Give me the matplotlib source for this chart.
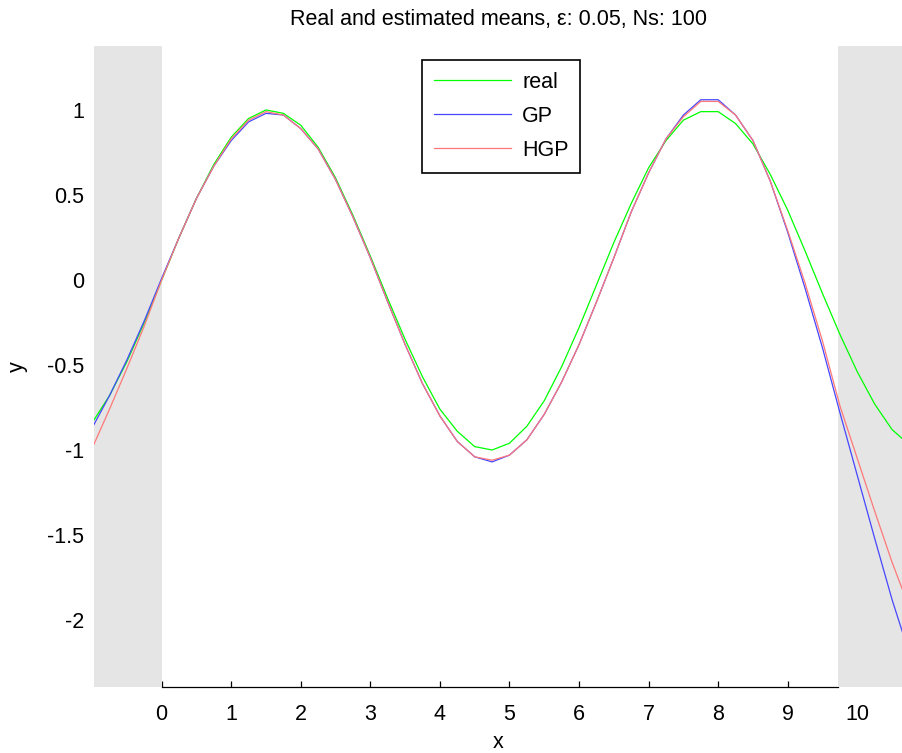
import numpy as np
import matplotlib.pyplot as plt

plt.rcParams['font.family'] = ['Liberation Sans', 'DejaVu Sans']

# sample positions
x = [-1.0, -0.75, -0.5, -0.25, 0.0, 0.25, 0.5, 0.75, 1.0, 1.25, 1.5, 1.75,
     2.0, 2.25, 2.5, 2.75, 3.0, 3.25, 3.5, 3.75, 4.0, 4.25, 4.5, 4.75,
     5.0, 5.25, 5.5, 5.75, 6.0, 6.25, 6.5, 6.75, 7.0, 7.25, 7.5, 7.75,
     8.0, 8.25, 8.5, 8.75, 9.0, 9.25, 9.5, 9.75, 10.0, 10.25, 10.5, 10.75]

real = [-0.84, -0.68, -0.48, -0.25, 0.00, 0.25, 0.48, 0.68, 0.84, 0.95, 1.00, 0.98,
        0.91, 0.78, 0.60, 0.38, 0.14, -0.11, -0.35, -0.57, -0.76, -0.89, -0.98, -1.00,
        -0.96, -0.86, -0.71, -0.51, -0.28, -0.03, 0.22, 0.45, 0.66, 0.82, 0.94, 0.99,
        0.99, 0.92, 0.80, 0.62, 0.41, 0.17, -0.08, -0.32, -0.54, -0.73, -0.88, -0.97]

gp = [-0.87, -0.68, -0.47, -0.24, 0.01, 0.25, 0.48, 0.67, 0.82, 0.93, 0.98, 0.97,
      0.89, 0.77, 0.59, 0.37, 0.13, -0.13, -0.38, -0.61, -0.80, -0.95, -1.04, -1.07,
      -1.03, -0.94, -0.79, -0.60, -0.38, -0.13, 0.13, 0.40, 0.63, 0.83, 0.97, 1.06,
      1.06, 0.97, 0.82, 0.58, 0.28, -0.05, -0.40, -0.78, -1.15, -1.52, -1.88, -2.20]

hgp = [-0.99, -0.76, -0.52, -0.27, 0.00, 0.25, 0.48, 0.67, 0.83, 0.94, 0.99, 0.97,
       0.89, 0.77, 0.59, 0.37, 0.13, -0.13, -0.38, -0.61, -0.80, -0.95, -1.04, -1.06,
       -1.03, -0.94, -0.79, -0.60, -0.38, -0.13, 0.13, 0.40, 0.63, 0.83, 0.96, 1.05,
       1.05, 0.97, 0.82, 0.58, 0.29, -0.02, -0.36, -0.74, -1.05, -1.36, -1.66, -1.93]

xticks = [0, 1, 2, 3, 4, 5, 6, 7, 8, 9, 10]
yticks = [-2, -1.5, -1, -0.5, 0, 0.5, 1]
ytick_labels = ['-2', '-1.5', '-1', '-0.5', '0', '0.5', '1']

fs = 15.5
fig = plt.figure(figsize=(9.03, 7.53), dpi=100)
ax = fig.add_axes([0.1041, 0.0876, 0.8959, 0.8513])

ax.plot(x, real, color='#00ff00', lw=0.9, label='real', zorder=4)
ax.plot(x, gp, color='#4646ff', lw=0.9, label='GP', zorder=5)
ax.plot(x, hgp, color='#ff7878', lw=0.9, label='HGP', zorder=6)

# shaded regions outside training range
ax.axvspan(-2, 0, color='#e5e5e5', lw=0, zorder=2.6)
ax.axvspan(9.727, 12, color='#e5e5e5', lw=0, zorder=2.6)

ax.set_xlim(-0.973, 10.657)
ax.set_ylim(-2.394, 1.376)

for s in ['top', 'right', 'left']:
    ax.spines[s].set_visible(False)
ax.spines['bottom'].set_linewidth(0.9)
ax.spines['bottom'].set_bounds(0, 9.727)

ax.set_xticks(xticks)
ax.set_xticklabels([str(t) for t in xticks], fontsize=fs)
ax.set_yticks(yticks)
ax.set_yticklabels(ytick_labels, fontsize=fs)
ax.tick_params(axis='x', direction='in', length=4, width=0.9, pad=12)
ax.tick_params(axis='y', direction='in', length=0, pad=7)
# tick at 10 sits under the shaded band
ax.xaxis.get_major_ticks()[-1].tick1line.set_visible(False)

ax.set_xlabel('x', fontsize=fs, labelpad=5)
ax.set_ylabel('y', fontsize=fs, labelpad=14)
ax.set_title('Real and estimated means, ε: 0.05, Ns: 100', fontsize=fs, pad=15)

leg = ax.legend(loc='upper left', bbox_to_anchor=(0.4054, 0.978), borderaxespad=0,
                fancybox=False, edgecolor='black', fontsize=fs, handlelength=3.6,
                handletextpad=0.5, labelspacing=0.6, borderpad=0.55, framealpha=1)
leg.get_frame().set_linewidth(1.2)
leg.set_zorder(10)

fig.savefig('out.png', dpi=100)
